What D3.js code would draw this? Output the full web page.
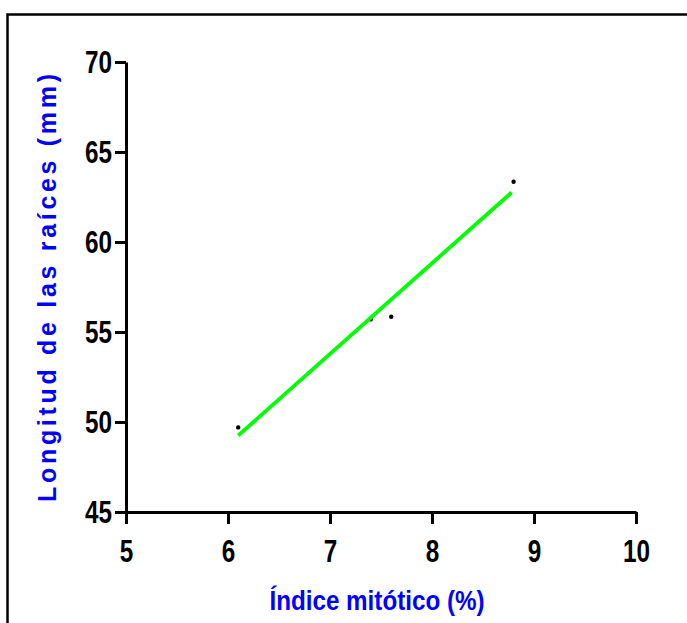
<!DOCTYPE html>
<html>

<head>
    <meta charset="UTF-8">
    <style>
        body { margin: 0; background: #fff; }
        svg text { font-family: "Liberation Sans", Arial, sans-serif; font-weight: bold; }
    </style>
</head>

<body>
    <script src="https://d3js.org/d3.v7.min.js"></script>
    <div id="chart"></div>
    <script>
        // values
        const indiceMitotico = [6.1, 7.4, 7.6, 8.8];
        const longitudRaices = [49.7, 55.7, 55.85, 63.35];
        // fitted line (ends as drawn)
        const fitX = [6.1, 8.78];
        const fitY = [49.25, 62.75];
        const xTicks = [5, 6, 7, 8, 9, 10];
        const yTicks = [45, 50, 55, 60, 65, 70];

        const W = 687, H = 623;
        const margin = { top: 62, right: 51, bottom: 111, left: 126 };

        const svg = d3.select("#chart")
            .append("svg")
            .attr("width", W)
            .attr("height", H);

        // outer frame (runs off the right and bottom edge)
        svg.append("rect")
            .attr("x", 7.5).attr("y", 14.5)
            .attr("width", 720).attr("height", 720)
            .attr("fill", "none")
            .attr("stroke", "#000")
            .attr("stroke-width", 2.5);

        const x = d3.scaleLinear().domain([5, 10]).range([margin.left, W - margin.right]);
        const y = d3.scaleLinear().domain([45, 70]).range([H - margin.bottom, margin.top]);

        const digitW = 13.5;

        // X axis
        const gx = svg.append("g")
            .attr("transform", `translate(0, ${H - margin.bottom})`)
            .call(d3.axisBottom(x).tickValues(xTicks).tickSize(12).tickSizeOuter(0).tickFormat(d3.format("d")));
        gx.selectAll("path, line").attr("stroke", "#000").attr("stroke-width", 3);
        gx.selectAll("text")
            .attr("y", 27)
            .attr("fill", "#000")
            .style("font-size", "32px")
            .attr("textLength", d => String(d).length * digitW)
            .attr("lengthAdjust", "spacingAndGlyphs");

        // Y axis
        const gy = svg.append("g")
            .attr("transform", `translate(${margin.left}, 0)`)
            .call(d3.axisLeft(y).tickValues(yTicks).tickSize(11).tickSizeOuter(0).tickFormat(d3.format("d")));
        gy.selectAll("path, line").attr("stroke", "#000").attr("stroke-width", 3);
        gy.selectAll("text")
            .attr("x", -14)
            .attr("fill", "#000")
            .style("font-size", "32px")
            .attr("textLength", d => String(d).length * digitW)
            .attr("lengthAdjust", "spacingAndGlyphs");

        // points
        svg.selectAll("circle.pt")
            .data(indiceMitotico)
            .enter()
            .append("circle")
            .attr("class", "pt")
            .attr("cx", d => x(d))
            .attr("cy", (d, i) => y(longitudRaices[i]))
            .attr("r", 2.2)
            .attr("fill", "#000");

        // regression line
        const line = d3.line().x(d => x(d[0])).y(d => y(d[1]));
        svg.append("path")
            .datum(fitX.map((v, i) => [v, fitY[i]]))
            .attr("d", line)
            .attr("fill", "none")
            .attr("stroke", "#00ff00")
            .attr("stroke-width", 3.8);

        // axis titles
        svg.append("text")
            .attr("x", 377)
            .attr("y", 610)
            .attr("text-anchor", "middle")
            .attr("fill", "#0000ff")
            .style("font-size", "28px")
            .attr("textLength", 215)
            .attr("lengthAdjust", "spacingAndGlyphs")
            .text("Índice mitótico (%)");

        svg.append("text")
            .attr("transform", "translate(56, 288) rotate(-90)")
            .attr("text-anchor", "middle")
            .attr("fill", "#0000ff")
            .style("font-size", "25px")
            .attr("textLength", 428)
            .attr("lengthAdjust", "spacing")
            .text("Longitud de las raíces (mm)");
    </script>
</body>

</html>
